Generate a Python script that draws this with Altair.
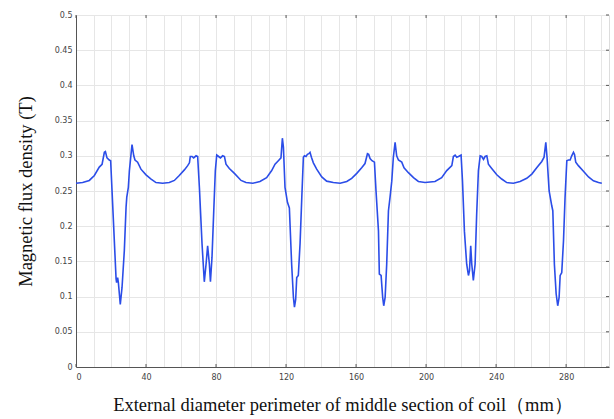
import altair as alt
import pandas as pd

# Perimeter position (mm)
pos = [0, 3.8, 7.6, 10.5, 13.3, 14.9, 16.2, 16.8, 17.7, 19, 19.8, 22.9, 23.2, 23.8, 24.2,
       25.3, 26.3, 27.6, 28.6, 29, 29.9, 30.5, 32, 33, 33.7, 35.2, 37.1, 40, 42.9, 45.7,
       49.5, 53.3, 56.2, 59, 61.9, 63.8, 64.8, 65.3, 66.3, 67.2, 68.6, 69.5, 70.5, 72,
       73.3, 74.3, 75.2, 76.2, 76.8, 77.7, 78.7, 79.6, 80.4, 81.5, 82.5, 83.8, 84.8, 85.7,
       87.6, 90.5, 94.3, 97.1, 101, 105.1, 108.9, 111.8, 113.7, 115.6, 117.1, 117.9, 118.5,
       119.4, 120.8, 121.9, 123.2, 124.2, 124.8, 125.5, 126.1, 127, 128, 129, 129.9, 130.5,
       131.4, 132.2, 133, 133.7, 134.5, 135.6, 137.5, 140.4, 143.2, 147, 150.9, 154.7,
       157.5, 160.4, 163.2, 165.1, 166.5, 167.2, 168, 169.1, 170.5, 171.4, 172.8, 173.3,
       174.3, 175.2, 175.8, 176.6, 177.5, 178.5, 179.4, 180.4, 181.3, 182.3, 183.2, 184.2,
       186.1, 187.4, 189.9, 192.8, 195.6, 199.4, 205.1, 208.9, 211.8, 214.7, 215.6, 216.6,
       217.5, 218.5, 220, 220.8, 221.9, 223.2, 224.2, 224.8, 225.5, 226.1, 227, 228, 228.9,
       229.9, 230.9, 231.8, 232.8, 233.7, 234.7, 235.6, 237.5, 240.4, 243.2, 246.1, 249.9,
       253.7, 257.5, 260.4, 263.2, 266.1, 267.4, 268.4, 269.1, 270.3, 271.8, 272.4, 273.3,
       274.3, 275.2, 276, 276.6, 277.5, 278.5, 279.4, 280.4, 281.3, 282.3, 283.2, 284.2,
       284.8, 285.5, 287, 289.9, 292.8, 295.6, 298.5, 300.4]

# Magnetic flux density (T)
flux = [0.261, 0.262, 0.265, 0.272, 0.284, 0.288, 0.305, 0.306, 0.297, 0.294, 0.293, 0.125,
        0.12, 0.127, 0.12, 0.089, 0.113, 0.165, 0.227, 0.241, 0.255, 0.279, 0.316, 0.30,
        0.294, 0.291, 0.281, 0.273, 0.267, 0.262, 0.261, 0.262, 0.265, 0.272, 0.28, 0.286,
        0.29, 0.299, 0.299, 0.297, 0.30, 0.299, 0.255, 0.175, 0.121, 0.146, 0.172, 0.146,
        0.121, 0.156, 0.222, 0.279, 0.301, 0.299, 0.297, 0.30, 0.299, 0.288, 0.282, 0.275,
        0.265, 0.262, 0.261, 0.2635, 0.269, 0.279, 0.288, 0.293, 0.297, 0.325, 0.312, 0.255,
        0.234, 0.226, 0.146, 0.099, 0.085, 0.096, 0.127, 0.13, 0.175, 0.241, 0.298, 0.30,
        0.299, 0.302, 0.303, 0.305, 0.298, 0.29, 0.281, 0.27, 0.264, 0.262, 0.261, 0.2635,
        0.268, 0.275, 0.283, 0.289, 0.303, 0.302, 0.296, 0.293, 0.291, 0.25, 0.193, 0.132,
        0.13, 0.099, 0.087, 0.099, 0.146, 0.222, 0.241, 0.264, 0.298, 0.319, 0.30, 0.294,
        0.291, 0.283, 0.276, 0.269, 0.2635, 0.262, 0.2635, 0.269, 0.279, 0.286, 0.299, 0.301,
        0.298, 0.299, 0.301, 0.264, 0.193, 0.146, 0.13, 0.137, 0.172, 0.146, 0.123, 0.146,
        0.217, 0.279, 0.30, 0.299, 0.295, 0.299, 0.30, 0.288, 0.282, 0.273, 0.267, 0.262,
        0.261, 0.2635, 0.268, 0.274, 0.283, 0.292, 0.298, 0.319, 0.298, 0.25, 0.229, 0.222,
        0.146, 0.104, 0.087, 0.099, 0.13, 0.134, 0.179, 0.241, 0.293, 0.294, 0.294, 0.30,
        0.305, 0.302, 0.291, 0.286, 0.278, 0.27, 0.2645, 0.262, 0.261]

x_grid = list(range(0, 301, 10))
x_labels = [0, 40, 80, 120, 160, 200, 240, 280]
y_ticks = [0, 0.05, 0.1, 0.15, 0.2, 0.25, 0.3, 0.35, 0.4, 0.45, 0.5]

df = pd.DataFrame({"x": pos, "y": flux})
xt = pd.DataFrame({"x": x_labels})
yt = pd.DataFrame({"y": y_ticks})

W, H = 533, 352
xscale = alt.Scale(domain=[0, 304.5], nice=False, zero=False)
yscale = alt.Scale(domain=[0, 0.5], nice=False)

xaxis = alt.Axis(
    values=x_grid,
    labelExpr="datum.value % 40 === 0 ? datum.label : ''",
    tickSize=0, labelPadding=6,
    labelFont="DejaVu Sans", labelFontSize=8, labelColor="#444",
    grid=True, gridColor="#e6e6e6", gridWidth=1,
    domainColor="#555", domainWidth=1,
    title="External diameter perimeter of middle section of coil（mm）",
    titleFont="Liberation Serif", titleFontSize=18.5, titleFontWeight="normal",
    titleColor="#111", titlePadding=14,
)
yaxis = alt.Axis(
    values=y_ticks, format=".2~f",
    tickSize=0, labelPadding=4,
    labelFont="DejaVu Sans", labelFontSize=8, labelColor="#444",
    grid=True, gridColor="#e6e6e6", gridWidth=1,
    domainColor="#555", domainWidth=1,
    title="Magnetic flux density (T)",
    titleFont="Liberation Serif", titleFontSize=18.5, titleFontWeight="normal",
    titleColor="#111", titlePadding=19,
)

line = alt.Chart(df).mark_line(color="#2b4de8", strokeWidth=1.6).encode(
    x=alt.X("x:Q", scale=xscale, axis=xaxis),
    y=alt.Y("y:Q", scale=yscale, axis=yaxis),
)

tick_color = "#555"
top_ticks = alt.Chart(xt).mark_rule(color=tick_color, strokeWidth=1).encode(
    x=alt.X("x:Q", scale=xscale, axis=xaxis),
    y=alt.value(0), y2=alt.value(3),
)
bottom_ticks = alt.Chart(xt).mark_rule(color=tick_color, strokeWidth=1).encode(
    x=alt.X("x:Q", scale=xscale, axis=xaxis),
    y=alt.value(H), y2=alt.value(H - 3),
)
right_ticks = alt.Chart(yt).mark_rule(color=tick_color, strokeWidth=1).encode(
    y=alt.Y("y:Q", scale=yscale, axis=yaxis),
    x=alt.value(W), x2=alt.value(W - 3),
)

chart = alt.layer(line, top_ticks, bottom_ticks, right_ticks).properties(
    width=W, height=H,
    autosize=alt.AutoSizeParams(type="none"),
    padding={"left": 76, "top": 15, "right": 5, "bottom": 52},
).configure_view(stroke="#666", strokeWidth=1).configure(background="white")

chart.save("out.html", embed_options={"renderer": "svg", "actions": False})
